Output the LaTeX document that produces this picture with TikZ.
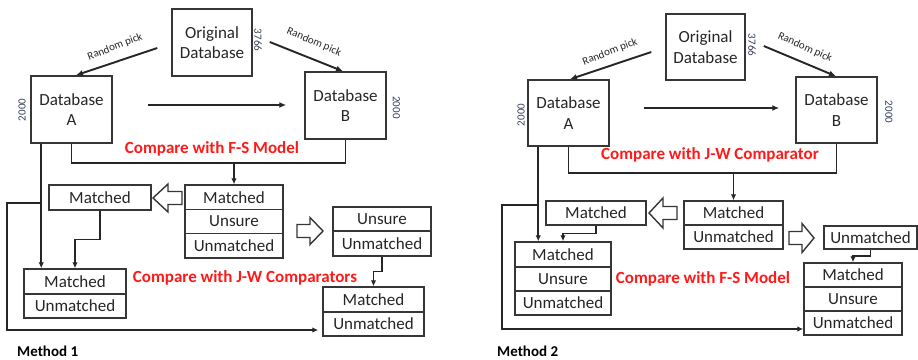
\documentclass[tikz,border=0pt]{standalone}
\usepackage{fontspec}
\setmainfont{Carlito}
\usetikzlibrary{calc,arrows.meta}
\definecolor{edge}{HTML}{363636}
\definecolor{ink}{HTML}{262626}
\definecolor{alert}{HTML}{FF1A1A}
\definecolor{count}{HTML}{34405A}

\begin{document}
\begin{tikzpicture}[x=1pt,y=-1pt,
  box/.style={draw=edge, line width=1.5pt, inner sep=0pt, text=ink,
              font=\fontsize{17}{20.5}\selectfont, align=center},
  pickarrow/.style={draw=black!85, line width=1.9pt, -{Latex[length=7pt,width=6pt]}},
  wire/.style={draw=black!85, line width=1.8pt},
  wirearrow/.style={wire, -{Latex[length=6pt,width=5.5pt]}},
  hollowarrow/.style={draw=edge, line width=1.4pt, fill=white, line join=miter},
  picklabel/.style={font=\fontsize{11}{12}\selectfont, text=ink, inner sep=0pt},
  countlabel/.style={font=\fontsize{11}{12}\selectfont, text=count, inner sep=0pt},
  redlabel/.style={font=\bfseries\fontsize{17}{20}\selectfont, text=alert, inner sep=0pt},
  methodlabel/.style={font=\bfseries\fontsize{15}{17}\selectfont, inner sep=0pt, anchor=west}
]
\useasboundingbox[fill=white] (0,0) rectangle (918,359);

% ---------------- Method 1 ----------------
\node[box, minimum width=80, minimum height=67] (orig1) at (212,42.5) {Original\\Database};
\node[countlabel, rotate=-90] (cO1) at (258,40) {3766};
\node[box, minimum width=81, minimum height=67] (dbA1) at (71.5,109.5) {Database\\A};
\node[countlabel, rotate=90] (cA1) at (22,110) {2000};
\node[box, minimum width=81, minimum height=67] (dbB1) at (345.5,105.5) {Database\\B};
\node[countlabel, rotate=-90] (cB1) at (396.5,107.5) {2000};

\node[picklabel, rotate=21] (rpA1) at (115,47) {Random pick};
\node[picklabel, rotate=-23] (rpB1) at (314,42) {Random pick};

\draw[pickarrow] ($(orig1.west)+(-14,5.5)$) -- ($(dbA1.north)+(4.5,0)$);
\draw[pickarrow] ($(orig1.east)+(17,-0.5)$) -- ($(dbB1.north)+(-2.5,0)$);
\draw[pickarrow] ($(dbA1.east)+(35,-4.5)$) -- ($(dbB1.west)+(-18,-0.5)$);

\node[redlabel] (fs1) at (212,149) {Compare with F-S Model};

% first comparison results
\node[box, minimum width=98, minimum height=24.3] (c1a) at (234,197.2) {Matched};
\node[box, minimum width=98, minimum height=24.3] (c1b) at (234,221.5) {Unsure};
\node[box, minimum width=98, minimum height=24.3] (c1c) at (234,245.8) {Unmatched};

\node[box, minimum width=102, minimum height=25] (lm1) at (100,197.5) {Matched};

\node[box, minimum width=98, minimum height=24] (us1a) at (382,219) {Unsure};
\node[box, minimum width=98, minimum height=25] (us1b) at (382,243.5) {Unmatched};

\node[box, minimum width=102, minimum height=25] (bl1a) at (75,281.5) {Matched};
\node[box, minimum width=102, minimum height=24] (bl1b) at (75,306) {Unmatched};

\node[box, minimum width=101, minimum height=25] (br1a) at (373.5,299.5) {Matched};
\node[box, minimum width=101, minimum height=24] (br1b) at (373.5,324) {Unmatched};

\node[redlabel] (jw1) at (245,278) {Compare with J-W Comparators};

% hollow block arrows
\draw[hollowarrow] (182,191.5) -- (168,191.5) -- (168,184) -- (153,198)
  -- (168,212) -- (168,204.5) -- (182,204.5) -- cycle;
\draw[hollowarrow] (297,224.5) -- (310,224.5) -- (310,217.5) -- (323,231)
  -- (310,244.5) -- (310,237.5) -- (297,237.5) -- cycle;

% connectors
\draw[wire] (dbA1.south) -- ++(0,19) coordinate (f1) -| (dbB1.south);
\draw[wirearrow] (f1 -| c1a.north) -- (c1a.north);
\coordinate (s1) at ($(dbA1.south west)+(11,0)$);
\draw[wirearrow] (s1) -- (s1 |- bl1a.north);
\draw[wirearrow] (lm1.south) |- ($(lm1.south)!0.5!(bl1a.north)$) -| (bl1a.north);
\draw[wirearrow] (us1b.south) |- ($(us1b.south)!0.5!(br1a.north)$) -| (br1a.north);
\coordinate (k1) at ($(s1)+(0,59)$);
\draw[wirearrow, shorten >=4pt] (k1) -- ++(-34,0) |- ($(br1b.west)+(0,6)$);

\node[methodlabel] (m1) at (17,351) {Method 1};

% ---------------- Method 2 ----------------
\node[box, minimum width=79, minimum height=66] (orig2) at (705.5,47) {Original\\Database};
\node[countlabel, rotate=-90] (cO2) at (752,45) {3766};
\node[box, minimum width=81, minimum height=66] (dbA2) at (568.5,113) {Database\\A};
\node[countlabel, rotate=90] (cA2) at (521,115) {2000};
\node[box, minimum width=81, minimum height=66] (dbB2) at (836.5,110) {Database\\B};
\node[countlabel, rotate=-90] (cB2) at (889,112) {2000};

\node[picklabel, rotate=21] (rpA2) at (610,52) {Random pick};
\node[picklabel, rotate=-24] (rpB2) at (805,47.5) {Random pick};

\draw[pickarrow] ($(orig2.west)+(-14,5)$) -- ($(dbA2.north)+(1.5,0)$);
\draw[pickarrow] ($(orig2.east)+(18,-1)$) -- ($(dbB2.north)+(-0.5,0)$);
\draw[pickarrow] ($(dbA2.east)+(34,-5)$) -- ($(dbB2.west)+(-16,-2)$);

\node[redlabel] (jw2) at (710,155) {Compare with J-W Comparator};

\node[box, minimum width=99, minimum height=24] (c2a) at (733.5,213) {Matched};
\node[box, minimum width=99, minimum height=24] (c2b) at (733.5,237) {Unmatched};

\node[box, minimum width=100, minimum height=24] (lm2) at (596,213) {Matched};
\node[box, minimum width=93, minimum height=23] (um2) at (870.5,237.5) {Unmatched};

\node[box, minimum width=96, minimum height=25] (bl2a) at (563,254.5) {Matched};
\node[box, minimum width=96, minimum height=24] (bl2b) at (563,279) {Unsure};
\node[box, minimum width=96, minimum height=24] (bl2c) at (563,303) {Unmatched};

\node[box, minimum width=98, minimum height=24] (br2a) at (853,275) {Matched};
\node[box, minimum width=98, minimum height=24] (br2b) at (853,299) {Unsure};
\node[box, minimum width=98, minimum height=24] (br2c) at (853,323) {Unmatched};

\node[redlabel] (fs2) at (703,279) {Compare with F-S Model};

\draw[hollowarrow] (677,206.5) -- (663,206.5) -- (663,198) -- (649,213)
  -- (663,228) -- (663,219.5) -- (677,219.5) -- cycle;
\draw[hollowarrow] (789,231.5) -- (802,231.5) -- (802,223.5) -- (814,238)
  -- (802,252.5) -- (802,244.5) -- (789,244.5) -- cycle;

\draw[wire] (dbA2.south) -- ++(0,26) coordinate (f2) -| (dbB2.south);
\draw[wirearrow] (f2 -| c2a.north) -- (c2a.north);
\coordinate (s2) at ($(dbA2.south west)+(11,0)$);
\draw[wirearrow] (s2) -- (s2 |- bl2a.north);
\draw[wirearrow] (lm2.south) |- ($(lm2.south)!0.5!(bl2a.north)$) -| (bl2a.north);
\draw[wirearrow] (um2.south) |- ($(um2.south)!0.5!(br2a.north)$) -| (br2a.north);
\coordinate (k2) at ($(s2)+(0,58)$);
\draw[wirearrow] (k2) -- ++(-36,0) |- ($(br2c.west)+(0,6)$);

\node[methodlabel] (m2) at (497,351) {Method 2};
\end{tikzpicture}
\end{document}
